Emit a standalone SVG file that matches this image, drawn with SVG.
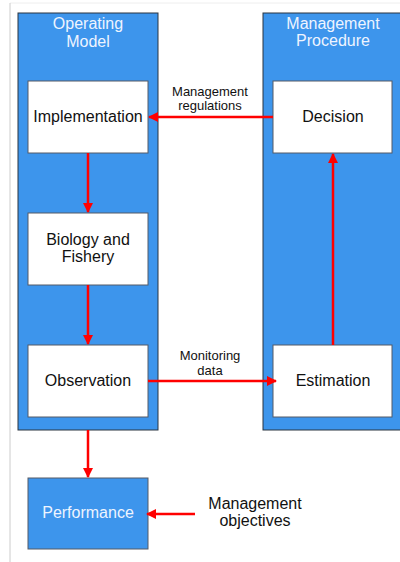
<svg xmlns="http://www.w3.org/2000/svg" width="400" height="562" viewBox="0 0 400 562">
<style>
.frame{fill:#3d95ec;stroke:#2a3440;stroke-width:1}
.box{fill:#ffffff;stroke:#555b66;stroke-width:1}
.t{font-family:"Liberation Sans",Arial,sans-serif;font-size:16px;fill:#111;text-anchor:middle}
.tw{font-family:"Liberation Sans",Arial,sans-serif;font-size:16px;fill:#eef4ff;text-anchor:middle}
.lbl{font-family:"Liberation Sans",Arial,sans-serif;font-size:13px;fill:#111;text-anchor:middle}
.c{stroke:#ff0000;stroke-width:2.5;fill:none;marker-end:url(#ah)}
</style>
<defs>
<marker id="ah" viewBox="0 0 10 10" refX="9" refY="5" markerWidth="4" markerHeight="4" markerUnits="strokeWidth" orient="auto">
<path d="M0,0 L10,5 L0,10 z" fill="#ff0000"/>
</marker>
</defs>
<rect width="400" height="562" fill="#ffffff"/>
<line x1="10" y1="3" x2="400" y2="3" stroke="#eeeeee" stroke-width="1"/>
<line x1="10" y1="3" x2="10" y2="562" stroke="#cccccc" stroke-width="1"/>
<g id="operating-model">
<rect class="frame" x="18" y="13" width="140" height="417"/>
<text class="tw" x="88" y="29">Operating</text>
<text class="tw" x="88" y="47">Model</text>
</g>
<g id="management-procedure">
<rect class="frame" x="263" y="13" width="145" height="417"/>
<text class="tw" x="333" y="29">Management</text>
<text class="tw" x="333" y="46">Procedure</text>
</g>
<g id="implementation">
<rect class="box" x="28" y="81" width="120" height="72"/>
<text class="t" x="88" y="122">Implementation</text>
</g>
<g id="decision">
<rect class="box" x="273" y="81" width="119" height="72"/>
<text class="t" x="333" y="122">Decision</text>
</g>
<g id="biology">
<rect class="box" x="28" y="213" width="120" height="72"/>
<text class="t" x="88" y="245">Biology and</text>
<text class="t" x="88" y="262">Fishery</text>
</g>
<g id="observation">
<rect class="box" x="28" y="345" width="120" height="72"/>
<text class="t" x="88" y="386">Observation</text>
</g>
<g id="estimation">
<rect class="box" x="273" y="345" width="119" height="72"/>
<text class="t" x="333" y="386">Estimation</text>
</g>
<g id="performance">
<rect class="frame" x="28" y="478" width="120" height="71" style="stroke:#555b66"/>
<text class="tw" x="88" y="518">Performance</text>
</g>
<g id="objectives">
<text class="t" x="255" y="509">Management</text>
<text class="t" x="255" y="526">objectives</text>
</g>
<g id="connectors">
<path class="c" d="M273,117 L149,117"/>
<path class="c" d="M88,153 L88,212"/>
<path class="c" d="M88,285 L88,344"/>
<path class="c" d="M148,381 L276,381"/>
<path class="c" d="M333,345 L333,154"/>
<path class="c" d="M88,430 L88,477"/>
<path class="c" d="M195,514 L147,514"/>
<text class="lbl" x="210" y="96">Management</text>
<text class="lbl" x="210" y="110">regulations</text>
<text class="lbl" x="210" y="360">Monitoring</text>
<text class="lbl" x="210" y="375">data</text>
</g>
</svg>
